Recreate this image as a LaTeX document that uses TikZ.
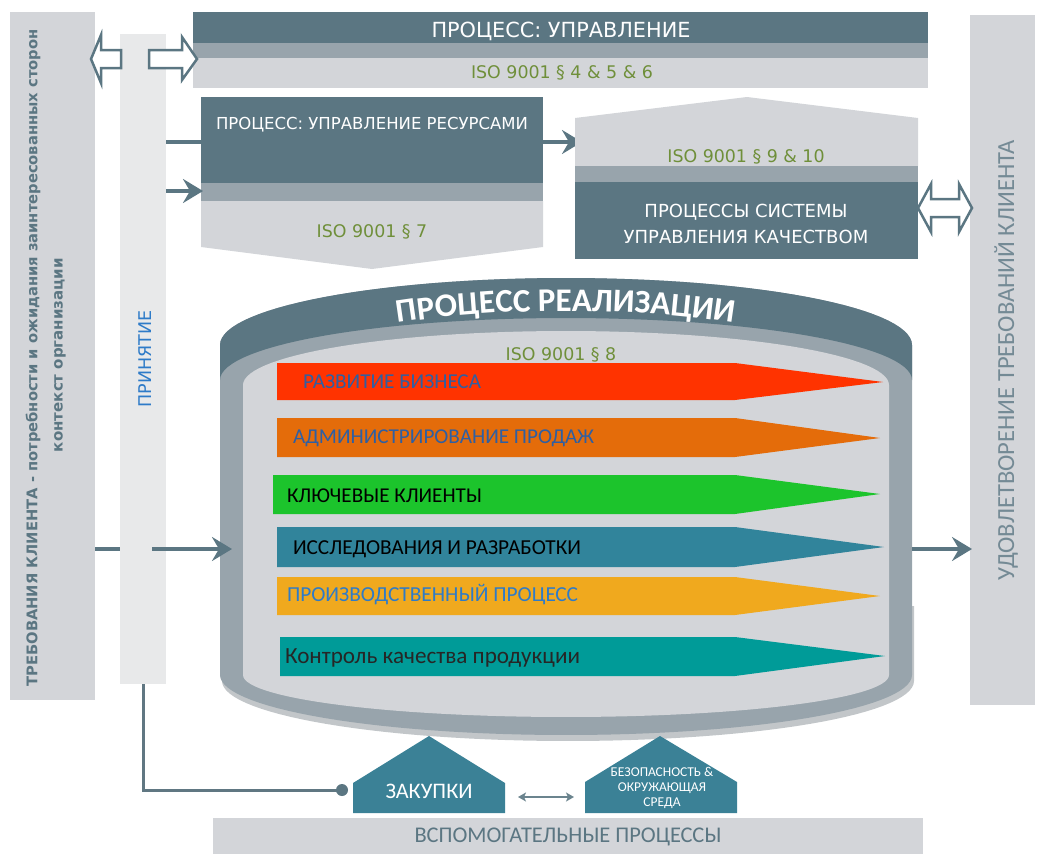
\documentclass[tikz,border=0pt]{standalone}
\usepackage{fontspec}
\usepackage{graphicx}
\setmainfont{DejaVu Sans}
\newfontfamily\carl{Carlito}
\usetikzlibrary{arrows.meta,decorations.text}
\definecolor{slate}{HTML}{5B7682}
\definecolor{midg}{HTML}{98A4AC}
\definecolor{lightg}{HTML}{D3D5D9}
\definecolor{paleg}{HTML}{E8E9EA}
\definecolor{shadowc}{HTML}{C2C6C9}
\definecolor{olive}{HTML}{6F8F3A}
\definecolor{housec}{HTML}{3B8196}
\definecolor{sred}{HTML}{FF3300}
\definecolor{sorange}{HTML}{E46C0A}
\definecolor{sgreen}{HTML}{1CC42C}
\definecolor{sblue}{HTML}{31849B}
\definecolor{samber}{HTML}{F0A91E}
\definecolor{steal}{HTML}{009B98}
\definecolor{tblue}{HTML}{2E5FA3}
\definecolor{accblue}{HTML}{2E7BC8}
\newcommand\fitw[2]{\resizebox{#1pt}{!}{#2}}
\tikzset{
  lbl/.style={inner sep=0pt, outer sep=0pt},
  iso/.style={lbl, text=olive, font=\fontsize{17.4}{20}\selectfont},
  arr/.style={draw=slate, line width=4.5pt, -{Stealth[length=20pt,width=24pt,inset=7pt]}},
  ln/.style={draw=slate, line width=4.5pt},
  hollow/.style={draw=slate, line width=2.5pt, fill=white, line join=miter},
  stxt/.style={lbl, anchor=west},
  conn/.style={draw=slate!85!gray, line width=3pt},
  small arr/.style={draw=slate!90, line width=2pt, {Stealth[length=8pt,width=9pt,inset=2pt]}-{Stealth[length=8pt,width=9pt,inset=2pt]}}
}
\begin{document}
\begin{tikzpicture}[x=1pt,y=-1pt]
\useasboundingbox (0,0) rectangle (1040,854);
% left requirement bar
\fill[lightg] (10,12) rectangle (95,700);
\node[lbl, rotate=90, text=slate] (req1) at (33,358) {\fitw{657}{\bfseries ТРЕБОВАНИЯ КЛИЕНТА - потребности и ожидания заинтересованных сторон}};
\node[lbl, rotate=90, text=slate] (req2) at (60,355) {\fitw{194}{\bfseries контекст организации}};
% acceptance bar
\fill[paleg] (120,34) rectangle (166,684);
\node[lbl, rotate=90, text=accblue, font=\fontsize{17.5}{20}\selectfont] (acc) at (145,359) {ПРИНЯТИЕ};
% right satisfaction bar
\fill[lightg] (970,15) rectangle (1035,705);
\node[lbl, rotate=90, text=slate!85] (sat) at (1006,360) {\fitw{440}{\carl УДОВЛЕТВОРЕНИЕ ТРЕБОВАНИЙ КЛИЕНТА}};
% management process box
\fill[slate] (193,12) rectangle (928,43);
\fill[midg] (193,43) rectangle (928,58);
\fill[lightg] (193,58) rectangle (928,88);
\node[lbl, text=white, font=\fontsize{20.8}{24}\selectfont] (mgmt) at (561,31) {ПРОЦЕСС: УПРАВЛЕНИЕ};
\node[iso] (iso456) at (562,73) {ISO 9001 § 4 \& 5 \& 6};
% hollow arrows top-left
\draw[hollow] (91,59) -- (101,35) -- (101,50) -- (121,50) -- (121,68) -- (101,68) -- (101,83) -- cycle;
\draw[hollow] (149,50) -- (182,50) -- (182,37) -- (197,59) -- (182,80) -- (182,68) -- (149,68) -- cycle;
% resources box
\fill[slate] (201,97) rectangle (543,183);
\fill[midg] (201,183) rectangle (543,201);
\fill[lightg] (201,201) -- (543,201) -- (543,247) -- (372,269) -- (201,247) -- cycle;
\node[lbl, text=white, font=\fontsize{16.5}{19}\selectfont] (res) at (372,125) {ПРОЦЕСС: УПРАВЛЕНИЕ РЕСУРСАМИ};
\node[iso] (iso7) at (372,232) {ISO 9001 § 7};
\coordinate (resIn1) at (201,142);
\coordinate (resIn2) at (203,191);
\coordinate (accR1) at (166,142);
\coordinate (accR2) at (166,191);
\coordinate (resOut) at (543,142);
\coordinate (qmsIn) at (582,142);
\draw[ln] (accR1) -- (resIn1);
\draw[arr] (accR2) -- (resIn2);
\draw[arr] (resOut) -- (qmsIn);
% QMS box
\fill[lightg] (575,166) -- (575,118) -- (747,97) -- (918,118) -- (918,166) -- cycle;
\fill[midg] (575,166) rectangle (918,182);
\fill[slate] (575,182) rectangle (918,259);
\node[iso] (iso910) at (746,157) {ISO 9001 § 9 \& 10};
\node[lbl, text=white, font=\fontsize{18}{22}\selectfont] (qms1) at (746,212) {ПРОЦЕССЫ СИСТЕМЫ};
\node[lbl, text=white, font=\fontsize{18}{22}\selectfont] (qms2) at (746,237) {УПРАВЛЕНИЯ КАЧЕСТВОМ};
\draw[hollow] (918,208) -- (931,184) -- (931,199) -- (959,199) -- (959,184) -- (972,208) -- (959,232) -- (959,217) -- (931,217) -- (931,232) -- cycle;
% cylinder
\fill[shadowc, shift={(2,6)}] (220,600) -- (912,600) -- (912,675) -- plot[domain=0:-180,samples=60] ({566+346*cos(\x)},{675-60*sin(\x)}) -- cycle;
\fill[midg] (220,345) -- plot[domain=180:0,samples=60] ({566+346*cos(\x)},{345-67*sin(\x)}) -- (912,675) -- plot[domain=0:-180,samples=60] ({566+346*cos(\x)},{675-60*sin(\x)}) -- cycle;
\fill[slate] plot[domain=180:0,samples=60] ({566+346*cos(\x)},{345-67*sin(\x)}) -- (912,380) -- plot[domain=0:180,samples=60] ({566+346*cos(\x)},{380-62*sin(\x)}) -- cycle;
\fill[lightg] plot[domain=180:0,samples=60] ({566+323*cos(\x)},{385-54*sin(\x)}) -- (889,675) -- plot[domain=0:-180,samples=60] ({566+323*cos(\x)},{675-42*sin(\x)}) -- cycle;
\path[decorate, decoration={text along path, text align=center, text color=white, text={|\carl\bfseries\fontsize{33}{33}\selectfont|ПРОЦЕСС РЕАЛИЗАЦИИ}}] plot[domain=180:0,samples=80] ({566+300*cos(\x)},{381-70*sin(\x)});
\node[iso] (iso8) at (561,355) {ISO 9001 § 8};
% stripes
\fill[sred] (277,363) -- (735,363) -- (883,382) -- (735,400) -- (277,400) -- cycle;
\node[stxt, text=tblue] (s1) at (303,382) {\fitw{178}{\carl РАЗВИТИЕ БИЗНЕСА}};
\fill[sorange] (277,418) -- (735,418) -- (880,438) -- (735,457) -- (277,457) -- cycle;
\node[stxt, text=tblue] (s2) at (293,438) {\fitw{301}{\carl АДМИНИСТРИРОВАНИЕ ПРОДАЖ}};
\fill[sgreen] (273,475) -- (735,475) -- (880,494) -- (735,514) -- (273,514) -- cycle;
\node[stxt, text=black] (s3) at (287,496) {\fitw{195}{\carl КЛЮЧЕВЫЕ КЛИЕНТЫ}};
\fill[sblue] (277,527) -- (735,527) -- (884,547) -- (735,567) -- (277,567) -- cycle;
\node[stxt, text=black] (s4) at (293,549) {\fitw{288}{\carl ИССЛЕДОВАНИЯ И РАЗРАБОТКИ}};
\fill[samber] (277,577) -- (735,577) -- (880,596) -- (735,615) -- (277,615) -- cycle;
\node[stxt, text=accblue] (s5) at (287,595) {\fitw{291}{\carl ПРОИЗВОДСТВЕННЫЙ ПРОЦЕСС}};
\fill[steal] (280,637) -- (735,637) -- (885,656) -- (735,676) -- (280,676) -- cycle;
\node[stxt, text=black!85] (s6) at (285,658) {\fitw{295}{\carl Контроль качества продукции}};
% main flow arrows
\coordinate (reqR) at (95,549);
\coordinate (accL) at (120,549);
\coordinate (accM) at (152,549);
\coordinate (cylL) at (232,549);
\coordinate (cylR) at (912,549);
\coordinate (satL) at (972,549);
\draw[ln] (reqR) -- (accL);
\draw[arr] (accM) -- (cylL);
\draw[arr] (cylR) -- (satL);
% support processes
\fill[lightg] (213,818) rectangle (923,854);
\node[lbl, text=slate] (sup) at (568,837) {\fitw{307}{\carl ВСПОМОГАТЕЛЬНЫЕ ПРОЦЕССЫ}};
\fill[housec] (353,813) -- (353,783) -- (429,736) -- (505,783) -- (505,813) -- cycle;
\node[lbl, text=white] (zak) at (429,791) {\fitw{87}{\carl ЗАКУПКИ}};
\fill[housec] (585,813) -- (585,782) -- (660,736) -- (737,782) -- (737,813) -- cycle;
\node[lbl, text=white, align=center, font=\carl\fontsize{13.5}{15}\selectfont] (safe) at (662,788) {БЕЗОПАСНОСТЬ \&\\ОКРУЖАЮЩАЯ\\СРЕДА};
\coordinate (zakR) at (518,797);
\coordinate (safeL) at (574,797);
\draw[small arr] (zakR) -- (safeL);
\coordinate (accB) at (143,684);
\coordinate (dot) at (342,790);
\draw[conn] (accB) -- (143,790) -- (dot);
\fill[slate] (dot) circle[radius=6];
\end{tikzpicture}
\end{document}
